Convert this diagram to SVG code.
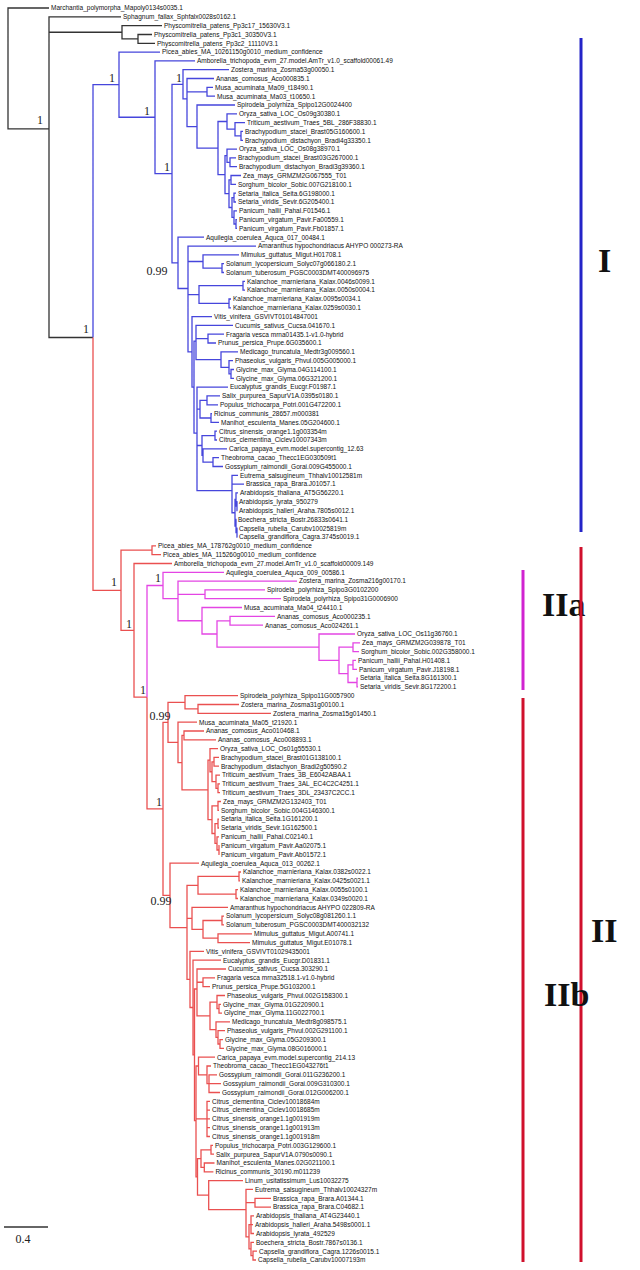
<svg xmlns="http://www.w3.org/2000/svg" width="640" height="1270" viewBox="0 0 640 1270">
<style>
.k{stroke:#333;fill:none;stroke-width:1.3}
.b{stroke:#4646dc;fill:none;stroke-width:1.3}
.r{stroke:#ea5050;fill:none;stroke-width:1.3}
.m{stroke:#e445e4;fill:none;stroke-width:1.3}
text{font-family:"Liberation Sans",Arial,sans-serif;font-size:6.5px;fill:#111}
.s{font-family:"Liberation Serif","Times New Roman",serif;font-size:12px;text-anchor:middle;fill:#222}
.c{font-family:"Liberation Serif","Times New Roman",serif;font-size:34px;font-weight:bold}
</style>
<rect width="640" height="1270" fill="#fff"/>
<g id="connectors">
<path class="k" d="M49,8 H8 V128.85 H49 M121,16.8 H49 V337.5 H93 M49,32.25 H122 M162,25.6 H122 V38.9 H138 M152,34.5 H138 V43.3 H155"/>
<path class="b" d="M119,84.7 H93 V337.5 M160,52.1 H119 V117.25 H155 M195,60.9 H155 V173.6 H172 M183,84.3 H172 V262.85 H178 M229,69.7 H183 V98.95 H187 M214,78.5 H187 V126.55 H197 M187,91.8 H207 M213,87.4 H207 V96.2 H215 M235,105 H197 V148.1 H218 M227,121.5 H218 V174.7 H225 M237,113.8 H227 V129.2 H235 M245,122.6 H235 V135.85 H241 M243,131.4 H241 V140.3 H243 M227,155.7 H225 V193.7 H229 M237,149.1 H227 V162.3 H230 M236,157.9 H230 V166.7 H237 M231,179.9 H229 V207.5 H232 M241,175.5 H231 V184.3 H236 M234,197.6 H232 V217.4 H234 M236,193.2 H234 V202 H236 M237,210.8 H234 V224 H236 M237,219.6 H236 V228.4 H237"/>
<path class="b" d="M204,237.2 H178 V288.5 H188 M256,246.1 H188 V351.9 H192 M188,261.5 H203 M188,294.55 H199 M239,254.9 H203 V268.1 H222 M224,263.7 H222 V272.5 H224 M243,285.7 H199 V303.4 H229 M245,281.3 H243 V290.1 H245 M231,299 H229 V307.8 H231 M212,316.6 H192 V387.15 H194 M196,341.2 H194 V433.1 H197 M233,325.4 H196 V359.6 H221 M196,338.6 H208 M224,334.2 H208 V343 H216 M238,351.9 H221 V367.3 H229 M233,360.7 H229 V373.9 H231 M234,369.5 H231 V378.3 H234 M228,387.1 H197 V490.7 H232 M197,409.2 H200 M197,445.5 H202 M207,400.35 H200 V418 H211 M220,395.9 H207 V404.8 H218 M212,413.6 H211 V422.4 H219 M215,435.6 H202 V455.45 H203 M217,431.2 H215 V440 H217 M227,448.8 H203 V462.1 H213 M219,457.7 H213 V466.5 H223 M238,475.3 H232 V512.75 H235 M232,484.1 H244 M236,499.5 H235 V526 H236 M238,492.9 H236 V506.15 H237 M237.5,501.7 H237 V510.6 H237.5 M236.5,519.4 H236 V532.6 H237 M237.5,528.2 H237 V537 H237.5"/>
<path class="r" d="M93,337.5 V590.3 H121 M152,550.2 H121 V630.35 H134 M156,545.8 H152 V554.6 H161 M172,563.5 H134 V697.2 H147 M147,697.2 V808.9 H163"/>
<path class="m" d="M163,585.5 H147 V697.2 M224,572.3 H163 V598.7 H178 M297,581.1 H178 V620.75 H202 M178,594.3 H205 M265,589.9 H205 V598.7 H281 M242,607.5 H202 V634 H217 M230,620.8 H217 V647.2 H319 M275,616.4 H230 V625.2 H263 M355,634 H319 V660.45 H339 M353,647.2 H339 V673.7 H348 M360,642.8 H353 V651.6 H359 M353,664.85 H348 V682.5 H357 M356,660.4 H353 V669.3 H357 M358,678.1 H357 V686.9 H358"/>
<path class="r" d="M168,722.4 H163 V895.45 H170 M185,702.3 H168 V742.45 H178 M238,695.7 H185 V708.9 H198 M239,704.5 H198 V713.3 H271 M197,722.2 H178 V762.7 H182 M184,735.4 H182 V789.95 H208 M204,731 H184 V739.8 H216 M210,760.2 H208 V819.7 H212 M218,748.6 H210 V771.75 H212 M214,761.8 H212 V781.7 H216 M219,757.4 H214 V766.2 H219 M220,775.1 H216 V788.3 H218 M220,783.9 H218 V792.7 H220 M218,805.9 H212 V833.5 H215 M221,801.5 H218 V810.3 H219 M218,823.55 H215 V843.4 H217 M219,819.1 H218 V828 H219 M219,836.8 H217 V850 H219 M219.5,845.6 H219 V854.4 H219.5"/>
<path class="r" d="M199,863.2 H170 V927.7 H187 M198,885.3 H187 V979.45 H190 M187,918.3 H192 M239,876.45 H198 V894.1 H236 M241,872 H239 V880.9 H240 M238,889.7 H236 V898.5 H238 M228,907.3 H192 V929.35 H203 M222,920.5 H203 V938.2 H218 M224,916.1 H222 V924.9 H224 M252,933.8 H218 V942.6 H250 M204,951.4 H190 V1007.5 H193 M221,960.2 H193 V1054.8 H194.5 M197,989 H194.5 V1120.6 H196 M226,969 H197 V1015.85 H210 M197,982.25 H203 M215,977.8 H203 V986.7 H210 M217,1002.1 H210 V1029.6 H216 M225,995.5 H217 V1008.7 H219 M221,1004.3 H219 V1013.1 H222 M230,1021.9 H216 V1037.35 H218 M225,1030.7 H218 V1044 H220 M223,1039.6 H220 V1048.4 H224"/>
<path class="r" d="M198.5,1066 H196 V1176.85 H197.5 M196,1118.9 H207 M215,1057.2 H198.5 V1074.8 H207 M211,1066 H207 V1083.6 H209 M217,1074.8 H209 V1092.5 H220 M209,1083.6 H221 M210,1101.3 H207 V1136.5 H210 M207,1110.1 H210 M207,1118.9 H210 M207,1127.7 H210 M201,1158.6 H197.5 V1195.1 H208.7 M211,1149.8 H201 V1167.4 H204.3 M213,1145.4 H211 V1154.2 H214 M214.5,1163 H204.3 V1171.8 H213.4 M243,1180.6 H208.7 V1209.6 H246 M253,1189.4 H246 V1236.8 H249 M246,1202.7 H255 M271,1198.3 H255 V1207.1 H271 M251,1224.7 H249 V1248.95 H251 M254,1215.9 H251 V1233.5 H254 M251,1224.7 H253 M254,1242.3 H251 V1255.6 H253 M257,1251.2 H253 V1260 H256"/>
</g>
<g id="supports">
<text class="s" x="40" y="124">1</text>
<text class="s" x="86" y="333">1</text>
<text class="s" x="112" y="82">1</text>
<text class="s" x="147" y="115">1</text>
<text class="s" x="179" y="82">1</text>
<text class="s" x="167" y="171">1</text>
<text class="s" x="157" y="275">0.99</text>
<text class="s" x="114" y="586">1</text>
<text class="s" x="129" y="628">1</text>
<text class="s" x="158" y="582">1</text>
<text class="s" x="143" y="694">1</text>
<text class="s" x="160" y="720">0.99</text>
<text class="s" x="159" y="806">1</text>
<text class="s" x="161" y="905">0.99</text>
</g>
<g id="scale">
<path class="k" d="M4,1227 H48"/>
<text class="s" x="23" y="1243">0.4</text>
</g>
<g id="cladeI"><path d="M581,38 V532" stroke="#2424c8" stroke-width="3"/><text class="c" x="598" y="272" fill="#2233bb">I</text></g>
<g id="cladeIIa"><path d="M523,570 V690" stroke="#d024d0" stroke-width="3"/><text class="c" x="542" y="616" fill="#cc22cc">IIa</text></g>
<g id="cladeII"><path d="M581,547 V1262" stroke="#d0102c" stroke-width="3"/><text class="c" x="591" y="942" fill="#cc1030">II</text></g>
<g id="cladeIIb"><path d="M523,698 V1262" stroke="#d0102c" stroke-width="3"/><text class="c" x="544" y="1006" fill="#cc1030">IIb</text></g>
<g id="leaves">
<g id="n1"><text x="51" y="10.3">Marchantia_polymorpha_Mapoly0134s0035.1</text></g>
<g id="n2"><text x="123" y="19.1">Sphagnum_fallax_Sphfalx0028s0162.1</text></g>
<g id="n3"><text x="164" y="27.9">Physcomitrella_patens_Pp3c17_15630V3.1</text></g>
<g id="n4"><text x="154" y="36.8">Physcomitrella_patens_Pp3c1_30350V3.1</text></g>
<g id="n5"><text x="157" y="45.6">Physcomitrella_patens_Pp3c2_11110V3.1</text></g>
<g id="n6"><text x="162" y="54.4">Picea_abies_MA_10261150g0010_medium_confidence</text></g>
<g id="n7"><text x="197" y="63.2">Amborella_trichopoda_evm_27.model.AmTr_v1.0_scaffold00061.49</text></g>
<g id="n8"><text x="231" y="72">Zostera_marina_Zosma53g00050.1</text></g>
<g id="n9"><text x="216" y="80.8">Ananas_comosus_Aco000835.1</text></g>
<g id="n10"><text x="215" y="89.7">Musa_acuminata_Ma09_t18490.1</text></g>
<g id="n11"><text x="217" y="98.5">Musa_acuminata_Ma03_t10650.1</text></g>
<g id="n12"><text x="237" y="107.3">Spirodela_polyrhiza_Spipo12G0024400</text></g>
<g id="n13"><text x="239" y="116.1">Oryza_sativa_LOC_Os09g30380.1</text></g>
<g id="n14"><text x="247" y="124.9">Triticum_aestivum_Traes_5BL_286F38830.1</text></g>
<g id="n15"><text x="245" y="133.7">Brachypodium_stacei_Brast05G160600.1</text></g>
<g id="n16"><text x="245" y="142.6">Brachypodium_distachyon_Bradi4g33350.1</text></g>
<g id="n17"><text x="239" y="151.4">Oryza_sativa_LOC_Os08g38970.1</text></g>
<g id="n18"><text x="238" y="160.2">Brachypodium_stacei_Brast03G267000.1</text></g>
<g id="n19"><text x="239" y="169">Brachypodium_distachyon_Bradi3g39360.1</text></g>
<g id="n20"><text x="243" y="177.8">Zea_mays_GRMZM2G067555_T01</text></g>
<g id="n21"><text x="238" y="186.6">Sorghum_bicolor_Sobic.007G218100.1</text></g>
<g id="n22"><text x="238" y="195.5">Setaria_italica_Seita.6G198000.1</text></g>
<g id="n23"><text x="238" y="204.3">Setaria_viridis_Sevir.6G205400.1</text></g>
<g id="n24"><text x="239" y="213.1">Panicum_hallii_Pahal.F01546.1</text></g>
<g id="n25"><text x="239" y="221.9">Panicum_virgatum_Pavir.Fa00559.1</text></g>
<g id="n26"><text x="239" y="230.7">Panicum_virgatum_Pavir.Fb01857.1</text></g>
<g id="n27"><text x="206" y="239.5">Aquilegia_coerulea_Aquca_017_00484.1</text></g>
<g id="n28"><text x="258" y="248.4">Amaranthus hypochondriacus AHYPO 000273-RA</text></g>
<g id="n29"><text x="241" y="257.2">Mimulus_guttatus_Migut.H01708.1</text></g>
<g id="n30"><text x="226" y="266">Solanum_lycopersicum_Solyc07g066180.2.1</text></g>
<g id="n31"><text x="226" y="274.8">Solanum_tuberosum_PGSC0003DMT400096975</text></g>
<g id="n32"><text x="247" y="283.6">Kalanchoe_marnieriana_Kalax.0046s0099.1</text></g>
<g id="n33"><text x="247" y="292.4">Kalanchoe_marnieriana_Kalax.0050s0004.1</text></g>
<g id="n34"><text x="233" y="301.3">Kalanchoe_marnieriana_Kalax.0095s0034.1</text></g>
<g id="n35"><text x="233" y="310.1">Kalanchoe_marnieriana_Kalax.0259s0030.1</text></g>
<g id="n36"><text x="214" y="318.9">Vitis_vinifera_GSVIVT01014847001</text></g>
<g id="n37"><text x="235" y="327.7">Cucumis_sativus_Cucsa.041670.1</text></g>
<g id="n38"><text x="226" y="336.5">Fragaria vesca mrna01435.1-v1.0-hybrid</text></g>
<g id="n39"><text x="218" y="345.3">Prunus_persica_Prupe.6G035600.1</text></g>
<g id="n40"><text x="240" y="354.2">Medicago_truncatula_Medtr3g009560.1</text></g>
<g id="n41"><text x="235" y="363">Phaseolus_vulgaris_Phvul.005G005000.1</text></g>
<g id="n42"><text x="236" y="371.8">Glycine_max_Glyma.04G114100.1</text></g>
<g id="n43"><text x="236" y="380.6">Glycine_max_Glyma.06G321200.1</text></g>
<g id="n44"><text x="230" y="389.4">Eucalyptus_grandis_Eucgr.F01987.1</text></g>
<g id="n45"><text x="222" y="398.2">Salix_purpurea_SapurV1A.0395s0180.1</text></g>
<g id="n46"><text x="220" y="407.1">Populus_trichocarpa_Potri.001G472200.1</text></g>
<g id="n47"><text x="214" y="415.9">Ricinus_communis_28657.m000381</text></g>
<g id="n48"><text x="221" y="424.7">Manihot_esculenta_Manes.05G204600.1</text></g>
<g id="n49"><text x="219" y="433.5">Citrus_sinensis_orange1.1g003354m</text></g>
<g id="n50"><text x="219" y="442.3">Citrus_clementina_Ciclev10007343m</text></g>
<g id="n51"><text x="229" y="451.1">Carica_papaya_evm.model.supercontig_12.63</text></g>
<g id="n52"><text x="221" y="460">Theobroma_cacao_Thecc1EG030509t1</text></g>
<g id="n53"><text x="225" y="468.8">Gossypium_raimondii_Gorai.009G455000.1</text></g>
<g id="n54"><text x="240" y="477.6">Eutrema_salsugineum_Thhalv10012581m</text></g>
<g id="n55"><text x="246" y="486.4">Brassica_rapa_Brara.J01057.1</text></g>
<g id="n56"><text x="240" y="495.2">Arabidopsis_thaliana_AT5G56220.1</text></g>
<g id="n57"><text x="239" y="504">Arabidopsis_lyrata_950279</text></g>
<g id="n58"><text x="239" y="512.9">Arabidopsis_halleri_Araha.7805s0012.1</text></g>
<g id="n59"><text x="238" y="521.7">Boechera_stricta_Bostr.26833s0641.1</text></g>
<g id="n60"><text x="239" y="530.5">Capsella_rubella_Carubv10025819m</text></g>
<g id="n61"><text x="239" y="539.3">Capsella_grandiflora_Cagra.3745s0019.1</text></g>
<g id="n62"><text x="158" y="548.1">Picea_abies_MA_178762g0010_medium_confidence</text></g>
<g id="n63"><text x="163" y="556.9">Picea_abies_MA_115260g0010_medium_confidence</text></g>
<g id="n64"><text x="174" y="565.8">Amborella_trichopoda_evm_27.model.AmTr_v1.0_scaffold00009.149</text></g>
<g id="n65"><text x="226" y="574.6">Aquilegia_coerulea_Aquca_009_00586.1</text></g>
<g id="n66"><text x="299" y="583.4">Zostera_marina_Zosma216g00170.1</text></g>
<g id="n67"><text x="267" y="592.2">Spirodela_polyrhiza_Spipo3G0102200</text></g>
<g id="n68"><text x="283" y="601">Spirodela_polyrhiza_Spipo31G0006900</text></g>
<g id="n69"><text x="244" y="609.8">Musa_acuminata_Ma04_t24410.1</text></g>
<g id="n70"><text x="277" y="618.7">Ananas_comosus_Aco000235.1</text></g>
<g id="n71"><text x="265" y="627.5">Ananas_comosus_Aco024261.1</text></g>
<g id="n72"><text x="357" y="636.3">Oryza_sativa_LOC_Os11g36760.1</text></g>
<g id="n73"><text x="362" y="645.1">Zea_mays_GRMZM2G039878_T01</text></g>
<g id="n74"><text x="361" y="653.9">Sorghum_bicolor_Sobic.002G358000.1</text></g>
<g id="n75"><text x="358" y="662.7">Panicum_hallii_Pahal.H01408.1</text></g>
<g id="n76"><text x="359" y="671.6">Panicum_virgatum_Pavir.J18198.1</text></g>
<g id="n77"><text x="360" y="680.4">Setaria_italica_Seita.8G161300.1</text></g>
<g id="n78"><text x="360" y="689.2">Setaria_viridis_Sevir.8G172200.1</text></g>
<g id="n79"><text x="240" y="698">Spirodela_polyrhiza_Spipo11G0057900</text></g>
<g id="n80"><text x="241" y="706.8">Zostera_marina_Zosma31g00100.1</text></g>
<g id="n81"><text x="273" y="715.6">Zostera_marina_Zosma15g01450.1</text></g>
<g id="n82"><text x="199" y="724.5">Musa_acuminata_Ma05_t21920.1</text></g>
<g id="n83"><text x="206" y="733.3">Ananas_comosus_Aco010468.1</text></g>
<g id="n84"><text x="218" y="742.1">Ananas_comosus_Aco008893.1</text></g>
<g id="n85"><text x="220" y="750.9">Oryza_sativa_LOC_Os01g55530.1</text></g>
<g id="n86"><text x="221" y="759.7">Brachypodium_stacei_Brast01G138100.1</text></g>
<g id="n87"><text x="221" y="768.5">Brachypodium_distachyon_Bradi2g50590.2</text></g>
<g id="n88"><text x="222" y="777.4">Triticum_aestivum_Traes_3B_E6042ABAA.1</text></g>
<g id="n89"><text x="222" y="786.2">Triticum_aestivum_Traes_3AL_EC4C2C4251.1</text></g>
<g id="n90"><text x="222" y="795">Triticum_aestivum_Traes_3DL_23437C2CC.1</text></g>
<g id="n91"><text x="223" y="803.8">Zea_mays_GRMZM2G132403_T01</text></g>
<g id="n92"><text x="221" y="812.6">Sorghum_bicolor_Sobic.004G146300.1</text></g>
<g id="n93"><text x="221" y="821.4">Setaria_italica_Seita.1G161200.1</text></g>
<g id="n94"><text x="221" y="830.3">Setaria_viridis_Sevir.1G162500.1</text></g>
<g id="n95"><text x="221" y="839.1">Panicum_hallii_Pahal.C02140.1</text></g>
<g id="n96"><text x="221" y="847.9">Panicum_virgatum_Pavir.Aa02075.1</text></g>
<g id="n97"><text x="221" y="856.7">Panicum_virgatum_Pavir.Ab01572.1</text></g>
<g id="n98"><text x="201" y="865.5">Aquilegia_coerulea_Aquca_013_00262.1</text></g>
<g id="n99"><text x="243" y="874.3">Kalanchoe_marnieriana_Kalax.0382s0022.1</text></g>
<g id="n100"><text x="242" y="883.2">Kalanchoe_marnieriana_Kalax.0425s0021.1</text></g>
<g id="n101"><text x="240" y="892">Kalanchoe_marnieriana_Kalax.0055s0100.1</text></g>
<g id="n102"><text x="240" y="900.8">Kalanchoe_marnieriana_Kalax.0349s0020.1</text></g>
<g id="n103"><text x="230" y="909.6">Amaranthus hypochondriacus AHYPO 022809-RA</text></g>
<g id="n104"><text x="226" y="918.4">Solanum_lycopersicum_Solyc08g081260.1.1</text></g>
<g id="n105"><text x="226" y="927.2">Solanum_tuberosum_PGSC0003DMT400032132</text></g>
<g id="n106"><text x="254" y="936.1">Mimulus_guttatus_Migut.A00741.1</text></g>
<g id="n107"><text x="252" y="944.9">Mimulus_guttatus_Migut.E01078.1</text></g>
<g id="n108"><text x="206" y="953.7">Vitis_vinifera_GSVIVT01029435001</text></g>
<g id="n109"><text x="223" y="962.5">Eucalyptus_grandis_Eucgr.D01831.1</text></g>
<g id="n110"><text x="228" y="971.3">Cucumis_sativus_Cucsa.303290.1</text></g>
<g id="n111"><text x="217" y="980.1">Fragaria vesca mrna32518.1-v1.0-hybrid</text></g>
<g id="n112"><text x="212" y="989">Prunus_persica_Prupe.5G103200.1</text></g>
<g id="n113"><text x="227" y="997.8">Phaseolus_vulgaris_Phvul.002G158300.1</text></g>
<g id="n114"><text x="223" y="1006.6">Glycine_max_Glyma.01G220900.1</text></g>
<g id="n115"><text x="224" y="1015.4">Glycine_max_Glyma.11G022700.1</text></g>
<g id="n116"><text x="232" y="1024.2">Medicago_truncatula_Medtr8g098575.1</text></g>
<g id="n117"><text x="227" y="1033">Phaseolus_vulgaris_Phvul.002G291100.1</text></g>
<g id="n118"><text x="225" y="1041.9">Glycine_max_Glyma.05G209300.1</text></g>
<g id="n119"><text x="226" y="1050.7">Glycine_max_Glyma.08G016000.1</text></g>
<g id="n120"><text x="217" y="1059.5">Carica_papaya_evm.model.supercontig_214.13</text></g>
<g id="n121"><text x="213" y="1068.3">Theobroma_cacao_Thecc1EG043276t1</text></g>
<g id="n122"><text x="219" y="1077.1">Gossypium_raimondii_Gorai.011G236200.1</text></g>
<g id="n123"><text x="223" y="1085.9">Gossypium_raimondii_Gorai.009G310300.1</text></g>
<g id="n124"><text x="222" y="1094.8">Gossypium_raimondii_Gorai.012G006200.1</text></g>
<g id="n125"><text x="212" y="1103.6">Citrus_clementina_Ciclev10018684m</text></g>
<g id="n126"><text x="212" y="1112.4">Citrus_clementina_Ciclev10018685m</text></g>
<g id="n127"><text x="212" y="1121.2">Citrus_sinensis_orange1.1g001919m</text></g>
<g id="n128"><text x="212" y="1130">Citrus_sinensis_orange1.1g001913m</text></g>
<g id="n129"><text x="212" y="1138.8">Citrus_sinensis_orange1.1g001918m</text></g>
<g id="n130"><text x="215" y="1147.7">Populus_trichocarpa_Potri.003G129600.1</text></g>
<g id="n131"><text x="216" y="1156.5">Salix_purpurea_SapurV1A.0790s0090.1</text></g>
<g id="n132"><text x="216.6" y="1165.3">Manihot_esculenta_Manes.02G021100.1</text></g>
<g id="n133"><text x="215.4" y="1174.1">Ricinus_communis_30190.m011239</text></g>
<g id="n134"><text x="245" y="1182.9">Linum_usitatissimum_Lus10032275</text></g>
<g id="n135"><text x="255" y="1191.7">Eutrema_salsugineum_Thhalv10024327m</text></g>
<g id="n136"><text x="273" y="1200.6">Brassica_rapa_Brara.A01344.1</text></g>
<g id="n137"><text x="273" y="1209.4">Brassica_rapa_Brara.C04682.1</text></g>
<g id="n138"><text x="256" y="1218.2">Arabidopsis_thaliana_AT4G23440.1</text></g>
<g id="n139"><text x="255" y="1227">Arabidopsis_halleri_Araha.5498s0001.1</text></g>
<g id="n140"><text x="256" y="1235.8">Arabidopsis_lyrata_492529</text></g>
<g id="n141"><text x="256" y="1244.6">Boechera_stricta_Bostr.7867s0136.1</text></g>
<g id="n142"><text x="259" y="1253.5">Capsella_grandiflora_Cagra.1226s0015.1</text></g>
<g id="n143"><text x="258" y="1262.3">Capsella_rubella_Carubv10007193m</text></g>
</g>
</svg>
